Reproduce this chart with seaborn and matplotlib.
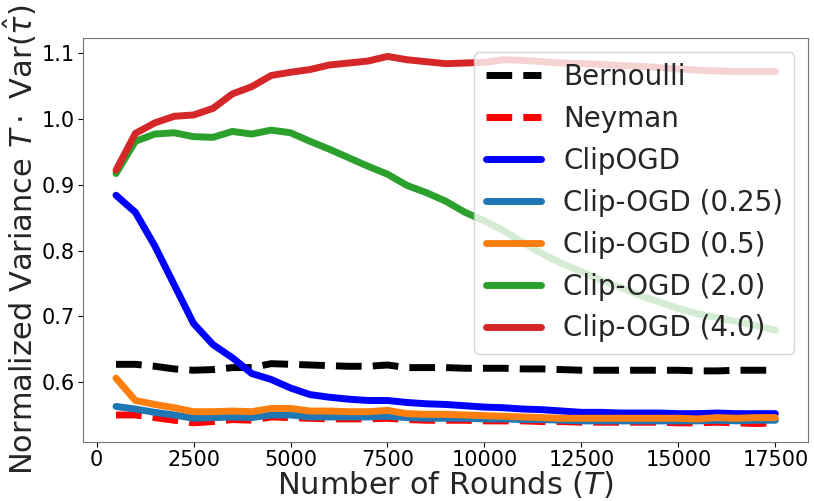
"""
Normalized variance of the effect estimator vs. number of rounds.
"""
import pandas as pd
import matplotlib
matplotlib.use('Agg')
import matplotlib.pyplot as plt
import seaborn as sns

rounds = [500, 1000, 1500, 2000, 2500, 3000, 3500, 4000, 4500, 5000,
          5500, 6000, 6500, 7000, 7500, 8000, 8500, 9000, 9500, 10000,
          10500, 11000, 11500, 12000, 12500, 13000, 13500, 14000, 14500, 15000,
          15500, 16000, 16500, 17000, 17500]

bernoulli = [0.627, 0.627, 0.624, 0.620, 0.618, 0.619, 0.622, 0.622, 0.628, 0.627,
             0.626, 0.625, 0.624, 0.624, 0.626, 0.622, 0.622, 0.622, 0.621, 0.621,
             0.621, 0.620, 0.620, 0.619, 0.618, 0.618, 0.618, 0.618, 0.618, 0.618,
             0.617, 0.617, 0.618, 0.618, 0.618]
neyman = [0.550, 0.550, 0.546, 0.542, 0.538, 0.540, 0.543, 0.542, 0.547, 0.546,
          0.545, 0.544, 0.544, 0.544, 0.545, 0.543, 0.542, 0.542, 0.542, 0.541,
          0.541, 0.541, 0.540, 0.540, 0.539, 0.539, 0.539, 0.539, 0.539, 0.538,
          0.538, 0.539, 0.538, 0.537, 0.538]
clipogd = [0.884, 0.858, 0.807, 0.748, 0.689, 0.657, 0.637, 0.613, 0.604, 0.591,
           0.581, 0.577, 0.574, 0.572, 0.572, 0.569, 0.567, 0.566, 0.564, 0.562,
           0.561, 0.559, 0.558, 0.556, 0.554, 0.554, 0.553, 0.553, 0.553, 0.552,
           0.552, 0.553, 0.552, 0.552, 0.552]
clip_025 = [0.563, 0.559, 0.554, 0.550, 0.545, 0.546, 0.547, 0.546, 0.550, 0.550,
            0.547, 0.547, 0.547, 0.547, 0.548, 0.546, 0.545, 0.545, 0.545, 0.544,
            0.544, 0.543, 0.543, 0.542, 0.541, 0.541, 0.541, 0.541, 0.541, 0.541,
            0.541, 0.542, 0.541, 0.542, 0.542]
clip_05 = [0.606, 0.572, 0.566, 0.561, 0.555, 0.555, 0.556, 0.555, 0.560, 0.560,
           0.556, 0.556, 0.555, 0.555, 0.557, 0.552, 0.551, 0.551, 0.550, 0.549,
           0.548, 0.547, 0.546, 0.545, 0.545, 0.545, 0.545, 0.545, 0.545, 0.545,
           0.544, 0.546, 0.545, 0.546, 0.546]
clip_20 = [0.917, 0.966, 0.977, 0.979, 0.973, 0.972, 0.981, 0.977, 0.983, 0.979,
           0.966, 0.954, 0.941, 0.928, 0.916, 0.899, 0.888, 0.875, 0.858, 0.845,
           0.830, 0.812, 0.795, 0.780, 0.768, 0.755, 0.744, 0.732, 0.722, 0.712,
           0.704, 0.698, 0.692, 0.686, 0.679]
clip_40 = [0.922, 0.978, 0.994, 1.004, 1.006, 1.016, 1.038, 1.049, 1.066, 1.071,
           1.075, 1.082, 1.085, 1.088, 1.095, 1.090, 1.087, 1.084, 1.085, 1.086,
           1.090, 1.089, 1.087, 1.085, 1.084, 1.083, 1.081, 1.080, 1.078, 1.076,
           1.074, 1.073, 1.072, 1.072, 1.072]

series = [
    ('Bernoulli', bernoulli, 'black', '--'),
    ('Neyman', neyman, 'red', '--'),
    ('ClipOGD', clipogd, 'blue', '-'),
    ('Clip-OGD (0.25)', clip_025, 'tab:blue', '-'),
    ('Clip-OGD (0.5)', clip_05, 'tab:orange', '-'),
    ('Clip-OGD (2.0)', clip_20, 'tab:green', '-'),
    ('Clip-OGD (4.0)', clip_40, 'tab:red', '-'),
]

sns.set_style("ticks", {'axes.edgecolor': '0.45'})
plt.rcParams['font.family'] = ['DejaVu Sans']

fig = plt.figure(figsize=(8.14, 5.01), dpi=100)
ax = fig.add_axes([0.102, 0.118, 0.891, 0.806])

for label, values, color, ls in series:
    df = pd.DataFrame({'T': rounds, 'v': values})
    sns.lineplot(data=df, x='T', y='v', ax=ax, color=color, linestyle=ls,
                 linewidth=5, label=label)

ax.set_xticks([0, 2500, 5000, 7500, 10000, 12500, 15000, 17500])
ax.tick_params(axis='both', labelsize=15, colors='black', pad=2.5)
for s in ax.spines.values():
    s.set_color('0.45')
ax.set_xlabel('Number of Rounds ($T$)', fontsize=22, labelpad=-1)
ax.set_ylabel(r'Normalized Variance $T \cdot$ Var($\hat{\tau}$)', fontsize=22, labelpad=2)
ax.legend(loc='upper right', fontsize=20, framealpha=0.8)

plt.savefig('out.png', dpi=100)
plt.close()
